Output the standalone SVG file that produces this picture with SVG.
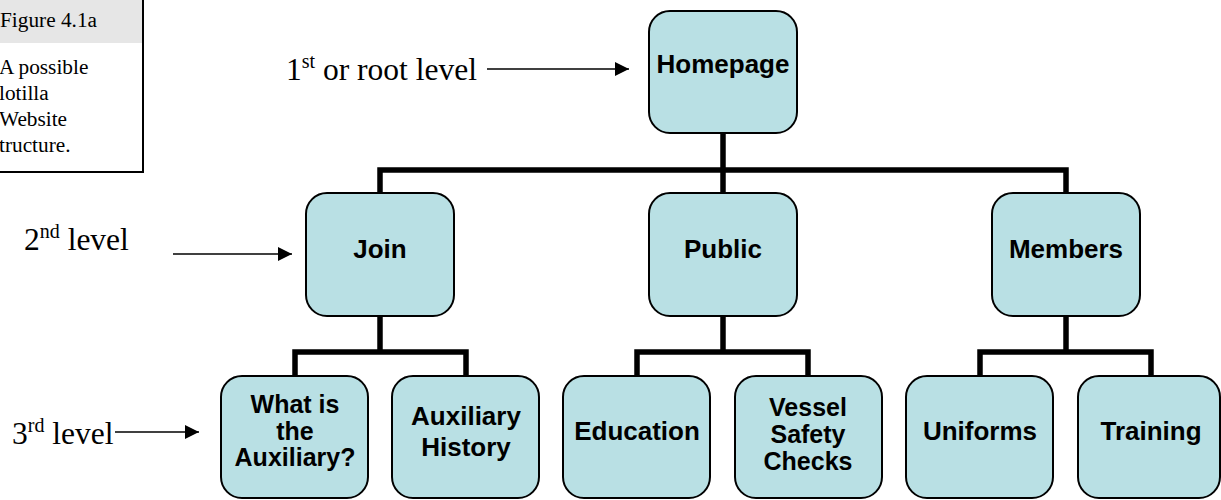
<svg xmlns="http://www.w3.org/2000/svg" width="1221" height="500" viewBox="0 0 1221 500">
<style>
.box{fill:#b9e0e4;stroke:#000;stroke-width:2}
.lbl{font-family:"Liberation Sans",Arial,sans-serif;font-weight:bold;font-size:26px;fill:#000;text-anchor:middle}
.ml{font-size:25px}
.ser{font-family:"Liberation Serif","Times New Roman",serif;fill:#000}
.bus{fill:none;stroke:#000;stroke-width:5.5;stroke-linejoin:miter;stroke-linecap:butt}
.arr{stroke:#000;stroke-width:1.6;fill:none}
</style>
<defs>
<marker id="ah" viewBox="0 0 14 14" refX="14" refY="7" markerWidth="14" markerHeight="14" markerUnits="userSpaceOnUse" orient="auto">
<path d="M0,0 L14,7 L0,14 Z" fill="#000"/>
</marker>
</defs>
<rect width="1221" height="500" fill="#fff"/>

<g id="caption">
<rect x="-10" y="-10" width="153" height="53" fill="#e6e6e6"/>
<rect x="-10" y="-10" width="153" height="182" fill="none" stroke="#000" stroke-width="2"/>
<text class="ser" x="0" y="27" font-size="21.3">Figure 4.1a</text>
<text class="ser" x="-1" y="74" font-size="21.3">A possible</text>
<text class="ser" x="-1" y="100" font-size="21.3">lotilla</text>
<text class="ser" x="-1" y="126" font-size="21.3">Website</text>
<text class="ser" x="-1" y="152" font-size="21.3">tructure.</text>
</g>

<g id="level-labels">
<text class="ser" x="286" y="80" font-size="31.5">1<tspan font-size="20" dy="-12">st</tspan><tspan dy="12"> or root level</tspan></text>
<text class="ser" x="24" y="250" font-size="31.5">2<tspan font-size="20" dy="-12">nd</tspan><tspan dy="12"> level</tspan></text>
<text class="ser" x="12" y="444" font-size="31.5">3<tspan font-size="20" dy="-12">rd</tspan><tspan dy="12"> level</tspan></text>
<line class="arr" x1="487" y1="69" x2="629" y2="69" marker-end="url(#ah)"/>
<line class="arr" x1="173" y1="254" x2="292" y2="254" marker-end="url(#ah)"/>
<line class="arr" x1="115" y1="432" x2="199" y2="432" marker-end="url(#ah)"/>
</g>

<g id="connectors">
<path class="bus" d="M723,133 V193"/>
<path class="bus" d="M380,193 V170 H1066 V193"/>
<path class="bus" d="M380,316 V352"/>
<path class="bus" d="M295,376 V352 H466 V376"/>
<path class="bus" d="M723,316 V352"/>
<path class="bus" d="M637,376 V352 H808 V376"/>
<path class="bus" d="M1066,316 V352"/>
<path class="bus" d="M980,376 V352 H1151 V376"/>
</g>

<g id="homepage">
<rect class="box" x="649" y="11" width="148" height="122" rx="21"/>
<text class="lbl" x="723" y="73" font-size="24">Homepage</text>
</g>
<g id="join">
<rect class="box" x="306" y="193" width="148" height="123" rx="21"/>
<text class="lbl" x="380" y="258">Join</text>
</g>
<g id="public">
<rect class="box" x="649" y="193" width="148" height="123" rx="21"/>
<text class="lbl" x="723" y="258">Public</text>
</g>
<g id="members">
<rect class="box" x="992" y="193" width="148" height="123" rx="21"/>
<text class="lbl" x="1066" y="258">Members</text>
</g>

<g id="what-is">
<rect class="box" x="221" y="376" width="147" height="122" rx="21"/>
<text class="lbl ml" x="295" y="413">What is</text>
<text class="lbl ml" x="295" y="440">the</text>
<text class="lbl ml" x="295" y="466">Auxiliary?</text>
</g>
<g id="aux-history">
<rect class="box" x="392" y="376" width="147" height="122" rx="21"/>
<text class="lbl" x="466" y="425">Auxiliary</text>
<text class="lbl" x="466" y="456">History</text>
</g>
<g id="education">
<rect class="box" x="563" y="376" width="147" height="122" rx="21"/>
<text class="lbl" x="637" y="440">Education</text>
</g>
<g id="vessel">
<rect class="box" x="735" y="376" width="147" height="122" rx="21"/>
<text class="lbl ml" x="808" y="416">Vessel</text>
<text class="lbl ml" x="808" y="443">Safety</text>
<text class="lbl ml" x="808" y="470">Checks</text>
</g>
<g id="uniforms">
<rect class="box" x="906" y="376" width="147" height="122" rx="21"/>
<text class="lbl" x="980" y="440">Uniforms</text>
</g>
<g id="training">
<rect class="box" x="1078" y="376" width="142" height="122" rx="21"/>
<text class="lbl" x="1151" y="440">Training</text>
</g>
</svg>
